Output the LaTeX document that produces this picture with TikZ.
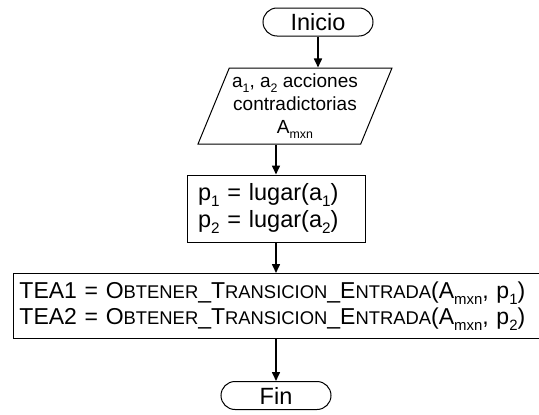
\documentclass[tikz,border=0pt]{standalone}
\usepackage{fontspec}
\setmainfont{Liberation Sans}
\usetikzlibrary{shapes.geometric,arrows.meta}
\newcommand{\subi}[1]{\raisebox{-.28em}{\scalebox{.65}{#1}}}
\newcommand{\fsc}[1]{\scalebox{.8}{#1}}
\tikzset{
  terminal/.style={draw, line width=1pt, rounded corners=14pt, minimum width=110pt, minimum height=28pt, inner sep=0pt},
  datos/.style={draw, line width=1pt, trapezium, trapezium left angle=65, trapezium right angle=115, trapezium stretches body=true, minimum width=194pt, minimum height=76pt, align=center, inner sep=1pt, font=\fontsize{19}{23}\selectfont},
  proceso/.style={draw, line width=1pt, align=left, inner ysep=4pt},
  flecha/.style={line width=1.6pt, -{Triangle[length=9pt, width=8pt]}}
}
\begin{document}
\begin{tikzpicture}[x=1pt, y=-1pt, font=\fontsize{23.5}{27}\selectfont]
  \clip (0,0) rectangle (539,415);
  \node[terminal] (inicio) at (318,22) {Inicio};
  \node[datos] (entrada) at (295,106) {a\subi{1}, a\subi{2} acciones\\contradictorias\\A\subi{mxn}};
  \node[proceso, text width=156pt, inner xsep=11pt, minimum height=67pt] (lugares) at (276,208.5) {p\subi{1} = lugar(a\subi{1})\\p\subi{2} = lugar(a\subi{2})};
  \node[proceso, text width=560pt, inner xsep=6pt, minimum height=65pt, anchor=west, font=\fontsize{23}{26}\selectfont] (tea) at (13,306) {TEA1 = O\fsc{BTENER}\_T\fsc{RANSICION}\_E\fsc{NTRADA}(A\subi{mxn}, p\subi{1})\\TEA2 = O\fsc{BTENER}\_T\fsc{RANSICION}\_E\fsc{NTRADA}(A\subi{mxn}, p\subi{2})};
  \node[terminal] (fin) at (276,395.5) {Fin};
  % flujo
  \draw[flecha] (inicio.south) -- (inicio.south |- entrada.north);
  \draw[flecha] (lugares.north |- entrada.south) -- (lugares.north);
  \draw[flecha] (lugares.south) -- (lugares.south |- tea.north);
  \draw[flecha] (fin.north |- tea.south) -- (fin.north);
\end{tikzpicture}
\end{document}
